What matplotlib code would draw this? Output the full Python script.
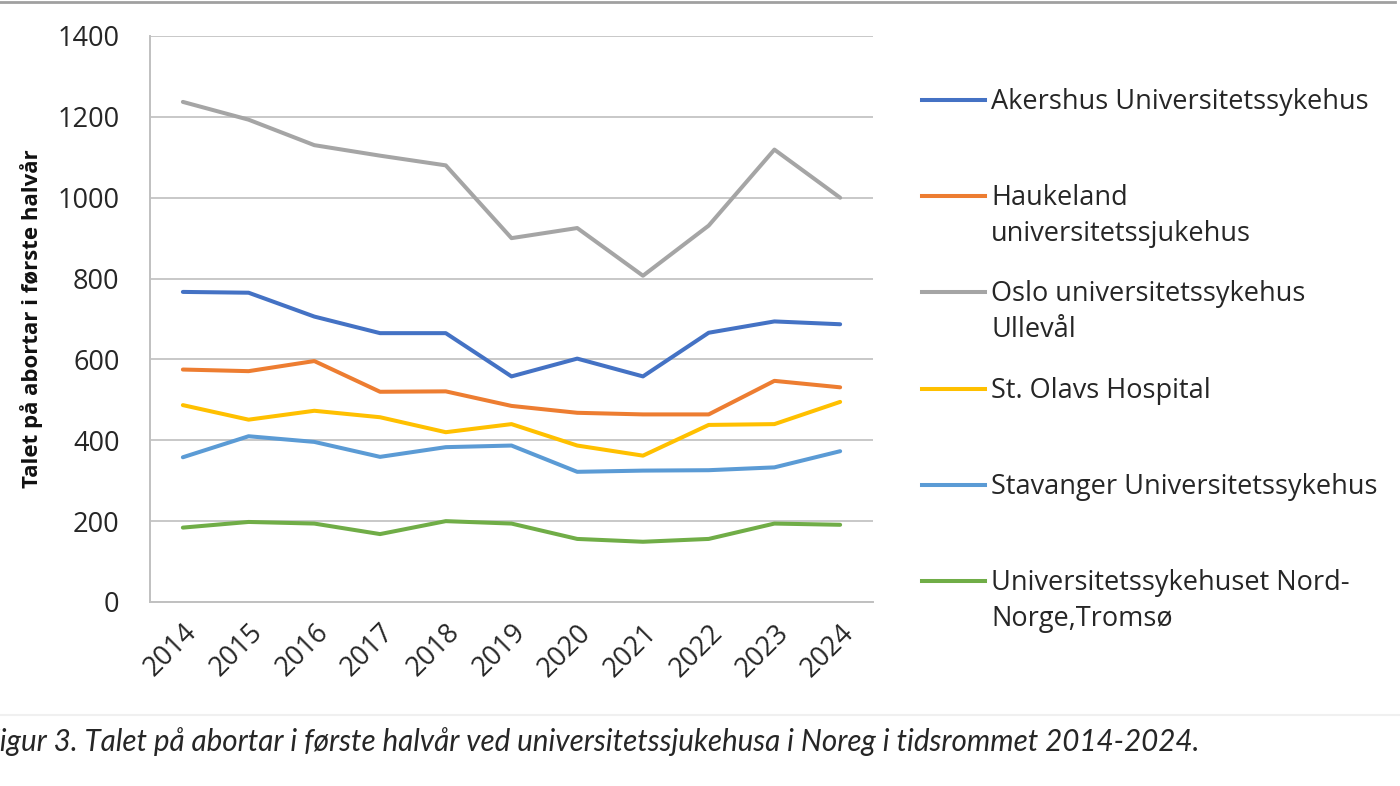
import matplotlib
matplotlib.use("Agg")
import matplotlib.pyplot as plt
from matplotlib.lines import Line2D

years = ["2014", "2015", "2016", "2017", "2018", "2019", "2020", "2021", "2022", "2023", "2024"]
akershus = [767, 765, 706, 665, 665, 558, 602, 558, 666, 694, 687]
haukeland = [575, 571, 596, 520, 521, 485, 468, 464, 464, 547, 531]
oslo = [1237, 1193, 1130, 1104, 1080, 900, 925, 807, 931, 1119, 1000]
stolavs = [487, 451, 473, 457, 420, 440, 387, 362, 438, 440, 495]
stavanger = [358, 410, 396, 359, 383, 387, 322, 325, 326, 333, 373]
tromso = [184, 198, 194, 168, 200, 194, 156, 149, 156, 194, 191]

labels = ["Akershus Universitetssykehus",
          "Haukeland\nuniversitetssjukehus",
          "Oslo universitetssykehus\nUllevål",
          "St. Olavs Hospital",
          "Stavanger Universitetssykehus",
          "Universitetssykehuset Nord-\nNorge,Tromsø"]
series = [akershus, haukeland, oslo, stolavs, stavanger, tromso]
colors = ["#4472C4", "#ED7D31", "#A5A5A5", "#FFC000", "#5B9BD5", "#70AD47"]
yticks = [0, 200, 400, 600, 800, 1000, 1200, 1400]
ylabel = "Talet på abortar i første halvår"
caption = "Figur 3. Talet på abortar i første halvår ved universitetssjukehusa i Noreg i tidsrommet 2014-2024."

plt.rcParams['font.family'] = ['Open Sans', 'DejaVu Sans']
txt = "#262626"

fig = plt.figure(figsize=(14, 7.86), dpi=100)
fig.patch.set_facecolor("white")
ax = fig.add_axes([150/1400, 1-602/786, 723/1400, 566/786])

x = list(range(len(years)))
for vals, c in zip(series, colors):
    ax.plot(x, vals, color=c, lw=2.9, solid_joinstyle="round", solid_capstyle="round", zorder=3)

ax.set_xlim(-0.5, len(years) - 0.5)
ax.set_ylim(0, 1400)
ax.set_yticks(yticks)
ax.set_yticklabels([str(v) for v in yticks], fontsize=19.5, color=txt)
ax.set_xticks(x)
ax.set_xticklabels(years, fontsize=19.5, rotation=45, ha="right", rotation_mode="anchor", color=txt)
ax.tick_params(axis="both", length=0)
ax.tick_params(axis="y", pad=22)
ax.tick_params(axis="x", pad=12)
ax.grid(axis="y", color="#C8C8C8", lw=1.4, zorder=0)
for s in ["top", "right"]:
    ax.spines[s].set_visible(False)
for s in ["left", "bottom"]:
    ax.spines[s].set_color("#C0C0C0")
    ax.spines[s].set_linewidth(1.4)
ax.set_ylabel(ylabel, fontsize=16, fontweight="bold", color="#111111", labelpad=10)

# legend (manual, handle aligned to first line of each label)
y0 = 1 - 100/786
dy = 96.2/786
for i, (lab, c) in enumerate(zip(labels, colors)):
    yy = y0 - i*dy
    fig.add_artist(Line2D([922/1400, 985/1400], [yy, yy], transform=fig.transFigure,
                          color=c, lw=2.9))
    fig.text(991/1400, yy + 12/786, lab, fontsize=19.5, va="top", ha="left",
             color=txt, linespacing=1.38)

# top border line
fig.add_artist(Line2D([0, 1395/1400], [1-1.5/786, 1-1.5/786], transform=fig.transFigure,
                      color="#A0A0A0", lw=2))
# caption band
fig.add_artist(Line2D([0, 1], [1-715/786, 1-715/786], transform=fig.transFigure,
                      color="#F0F0F0", lw=1.5))
fig.text(-16/1400, 1-742/786, caption, fontsize=21.3, style="italic",
         family=["Lato", "DejaVu Sans"], va="center", ha="left", color=txt)

fig.savefig("out.png", dpi=100, facecolor="white")
